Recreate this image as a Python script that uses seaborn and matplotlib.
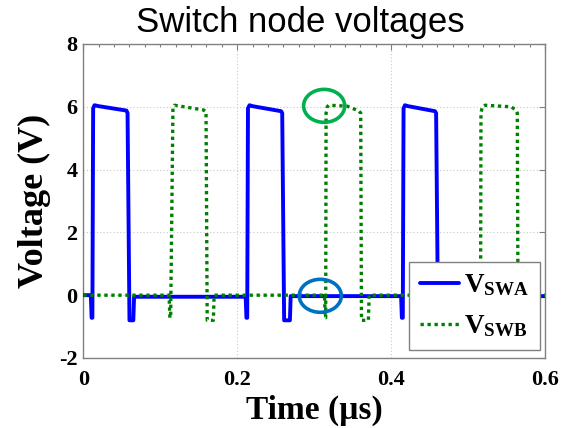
import matplotlib
matplotlib.use("Agg")
import matplotlib.pyplot as plt
from matplotlib.patches import Ellipse
from matplotlib.ticker import MultipleLocator, FixedLocator
import seaborn as sns
import pandas as pd

# ---------------- data ----------------
time_swa = [0.0000, 0.0098, 0.0108, 0.0118, 0.0128, 0.0145, 0.0200, 0.0560, 0.0575, 0.0600, 0.0650, 0.0660,
            0.2110, 0.2120, 0.2130, 0.2140, 0.2160, 0.2200, 0.2570, 0.2585, 0.2610, 0.2685, 0.2695,
            0.4130, 0.4140, 0.4152, 0.4162, 0.4180, 0.4220, 0.4570, 0.4585, 0.4610, 0.4680, 0.4690, 0.6000]
v_swa = [0.00, 0.00, -0.72, -0.72, 5.95, 6.05, 6.02, 5.88, 5.80, -0.80, -0.80, -0.05,
         -0.05, -0.72, -0.72, 5.95, 6.05, 6.02, 5.86, 5.80, -0.80, -0.80, -0.03,
         -0.03, -0.72, -0.72, 5.95, 6.05, 6.02, 5.86, 5.80, -0.80, -0.80, -0.03, -0.03]

time_swb = [0.0000, 0.1115, 0.1125, 0.1135, 0.1165, 0.1185, 0.1560, 0.1595, 0.1610, 0.1690, 0.1700,
            0.3135, 0.3143, 0.3150, 0.3155, 0.3170, 0.3190, 0.3430, 0.3580, 0.3605, 0.3615, 0.3705, 0.3715,
            0.5145, 0.5155, 0.5162, 0.5168, 0.5185, 0.5220, 0.5560, 0.5620, 0.5640, 0.5650, 0.5730, 0.5740, 0.6000]
v_swb = [0.00, 0.00, -0.72, -0.72, 5.95, 6.05, 5.90, 5.85, -0.80, -0.80, 0.00,
         0.00, -0.72, -0.72, 5.80, 6.00, 6.05, 6.02, 5.87, 5.80, -0.80, -0.80, 0.00,
         0.00, -0.72, -0.72, 5.80, 6.00, 6.05, 6.00, 5.90, 5.80, -0.80, -0.80, 0.00, 0.00]

series_labels = [r"$\mathbf{V}_{\mathbf{SWA}}$", r"$\mathbf{V}_{\mathbf{SWB}}$"]
x_ticks = [0, 0.2, 0.4, 0.6]
x_tick_labels = ["0", "0.2", "0.4", "0.6"]
y_ticks = [-2, 0, 2, 4, 6, 8]
y_tick_labels = ["-2", "0", "2", "4", "6", "8"]

# annotation circles: (center t, center V, width, height)
circle_green = (0.3130, 6.03, 0.0534, 1.05)
circle_blue = (0.3080, -0.02, 0.0547, 1.05)

title = "Switch node voltages"
xlabel = "Time (µs)"
ylabel = "Voltage (V)"

# ---------------- style ----------------
sns.set_theme(style="white")
plt.rcParams["font.family"] = ["Liberation Serif", "DejaVu Serif"]
plt.rcParams["mathtext.fontset"] = "custom"
plt.rcParams["mathtext.rm"] = "Liberation Serif:bold"
plt.rcParams["mathtext.bf"] = "Liberation Serif:bold"
plt.rcParams["mathtext.it"] = "Liberation Serif:bold"
plt.rcParams["axes.unicode_minus"] = False
plt.rcParams["text.color"] = "black"
plt.rcParams["axes.labelcolor"] = "black"
plt.rcParams["xtick.color"] = "black"
plt.rcParams["ytick.color"] = "black"

fig = plt.figure(figsize=(5.64, 4.28), dpi=100)
ax = fig.add_axes([0.1477, 0.1636, 0.8186, 0.7336])

df_a = pd.DataFrame({"t": time_swa, "v": v_swa})
df_b = pd.DataFrame({"t": time_swb, "v": v_swb})

sns.lineplot(data=df_a, x="t", y="v", ax=ax, sort=False, estimator=None,
             color="#0000ff", linewidth=2.8, label=series_labels[0], zorder=3)
sns.lineplot(data=df_b, x="t", y="v", ax=ax, sort=False, estimator=None,
             color="#008000", linewidth=2.4, linestyle=(0, (1, 1.1)),
             label=series_labels[1], zorder=4)

for (cx, cy, w, h), col in [(circle_green, "#00b050"), (circle_blue, "#0070c0")]:
    ax.add_patch(Ellipse((cx, cy), w, h, fill=False, edgecolor=col,
                         linewidth=2.6, zorder=6))

ax.set_xlim(0, 0.6)
ax.set_ylim(-2, 8)
ax.xaxis.set_major_locator(FixedLocator(x_ticks))
ax.set_xticklabels(x_tick_labels)
ax.xaxis.set_minor_locator(MultipleLocator(0.02))
ax.yaxis.set_major_locator(FixedLocator(y_ticks))
ax.set_yticklabels(y_tick_labels)

ax.grid(True, which="major", color="#c8c8c8", linestyle=(0, (1, 2)), linewidth=0.8)
for s in ax.spines.values():
    s.set_color("#808080")
    s.set_linewidth(1.0)
    s.set_visible(True)

ax.tick_params(axis="both", which="both", direction="in", top=True, right=True,
               color="#808080", labelcolor="black")
ax.tick_params(axis="both", which="major", length=4, width=0.8, labelsize=16)
ax.tick_params(axis="x", which="minor", length=2.5, width=0.8)
ax.tick_params(axis="x", which="major", pad=9)
ax.tick_params(axis="y", which="major", pad=4)
for lab in ax.get_xticklabels() + ax.get_yticklabels():
    lab.set_fontweight("bold")

ax.set_xlabel(xlabel, fontsize=24, fontweight="bold", labelpad=3, color="black")
ax.set_ylabel(ylabel, fontsize=26, fontweight="bold", labelpad=6, color="black")

fig.text(0.532, 0.926, title, fontsize=25, family="Liberation Sans",
         ha="center", va="baseline", color="black")

leg = ax.legend(loc="lower right", bbox_to_anchor=(0.989, 0.025), borderaxespad=0,
                fontsize=19.5, frameon=True, fancybox=False, framealpha=1,
                edgecolor="#808080", handlelength=1.45, handletextpad=0.18,
                borderpad=0.4, labelspacing=0.55)
leg.get_frame().set_linewidth(1.0)
leg.set_zorder(10)
for t in leg.get_texts():
    t.set_color("black")

fig.savefig("out.png", dpi=100)
